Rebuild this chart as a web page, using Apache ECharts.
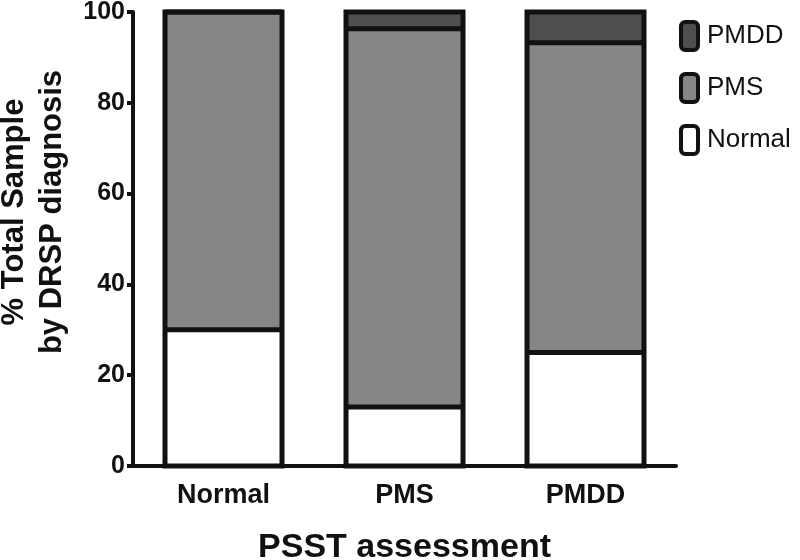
<!DOCTYPE html>
<html>
<head>
<meta charset="utf-8">
<script src="https://cdn.jsdelivr.net/npm/echarts@6/dist/echarts.min.js"></script>
<style>html,body{margin:0;padding:0;background:#fff;}#c{width:800px;height:560px;}</style>
</head>
<body>
<div id="c"></div>
<script>
const categories = ['Normal', 'PMS', 'PMDD'];
const normalPct = [30, 13, 25];
const pmsPct = [70, 83.3, 68.2];
const pmddPct = [0, 3.7, 6.8];
const legendOrder = ['PMDD', 'PMS', 'Normal'];
const yTicks = [0, 20, 40, 60, 80, 100];

const FONT = 'Liberation Sans, Arial, Helvetica, sans-serif';
const INK = '#111';
const BAR_W = 117;
const LINE_W = 5;

// outline data built from the arrays: [categoryIndex, top of Normal, top of PMS, total]
const outlineData = categories.map((c, i) => [
  i, normalPct[i], normalPct[i] + pmsPct[i], normalPct[i] + pmsPct[i] + pmddPct[i]
]);

const chart = echarts.init(document.getElementById('c'));

function barSeries(name, data, color) {
  return {
    name: name, type: 'bar', stack: 'total', data: data, barWidth: BAR_W,
    itemStyle: { color: color, borderWidth: 0 },
    emphasis: { disabled: true }, animation: false
  };
}

chart.setOption({
  animation: false,
  backgroundColor: '#fff',
  grid: { left: 133, right: 124, top: 12, bottom: 94, containLabel: false, outerBoundsMode: 'none' },
  legend: {
    data: legendOrder, orient: 'vertical', left: 674, top: 15,
    itemWidth: 17, itemHeight: 28, itemGap: 20, icon: 'roundRect',
    itemStyle: { borderColor: INK, borderWidth: 4 },
    textStyle: { fontFamily: FONT, fontSize: 26, color: INK, padding: [0, 0, 0, 4] },
    selectedMode: false
  },
  xAxis: {
    type: 'category', data: categories,
    name: 'PSST assessment', nameLocation: 'middle', nameGap: 65,
    nameTextStyle: { fontFamily: FONT, fontSize: 34, fontWeight: 'bold', color: INK },
    axisLine: { lineStyle: { color: INK, width: 4 } },
    axisTick: { alignWithLabel: true, length: 5, lineStyle: { color: INK, width: 3 } },
    axisLabel: { fontFamily: FONT, fontSize: 27, fontWeight: 'bold', color: INK, margin: 16 }
  },
  yAxis: {
    type: 'value', min: yTicks[0], max: yTicks[yTicks.length - 1], interval: 20,
    axisLine: { show: true, lineStyle: { color: INK, width: 4 } },
    axisTick: { show: true, length: 6, lineStyle: { color: INK, width: 4 } },
    splitLine: { show: false },
    axisLabel: { fontFamily: FONT, fontSize: 25, fontWeight: 'bold', color: INK, margin: 8 }
  },
  graphic: [{
    type: 'text', x: 33, y: 212, rotation: Math.PI / 2,
    style: {
      text: '% Total Sample\nby DRSP diagnosis', fill: INK,
      font: 'bold 31px ' + FONT, lineHeight: 38,
      align: 'center', verticalAlign: 'middle'
    }
  }],
  series: [
    barSeries('Normal', normalPct, '#ffffff'),
    barSeries('PMS', pmsPct, '#868686'),
    barSeries('PMDD', pmddPct, '#4f4f4f'),
    {
      name: 'outline', type: 'custom', data: outlineData, z: 5, silent: true, animation: false,
      encode: { x: 0, y: 3 },
      renderItem: function (params, api) {
        const i = api.value(0);
        const base = api.coord([i, 0]);
        const b1 = api.coord([i, api.value(1)]);
        const b2 = api.coord([i, api.value(2)]);
        const top = api.coord([i, api.value(3)]);
        const hw = BAR_W / 2;
        const x0 = base[0] - hw, x1 = base[0] + hw;
        const st = { stroke: INK, lineWidth: LINE_W, fill: null };
        return {
          type: 'group',
          children: [
            { type: 'rect', shape: { x: x0, y: top[1], width: BAR_W, height: base[1] - top[1] }, style: st },
            { type: 'line', shape: { x1: x0, y1: b1[1], x2: x1, y2: b1[1] }, style: st },
            { type: 'line', shape: { x1: x0, y1: b2[1], x2: x1, y2: b2[1] }, style: st }
          ]
        };
      }
    }
  ]
});
</script>
</body>
</html>
